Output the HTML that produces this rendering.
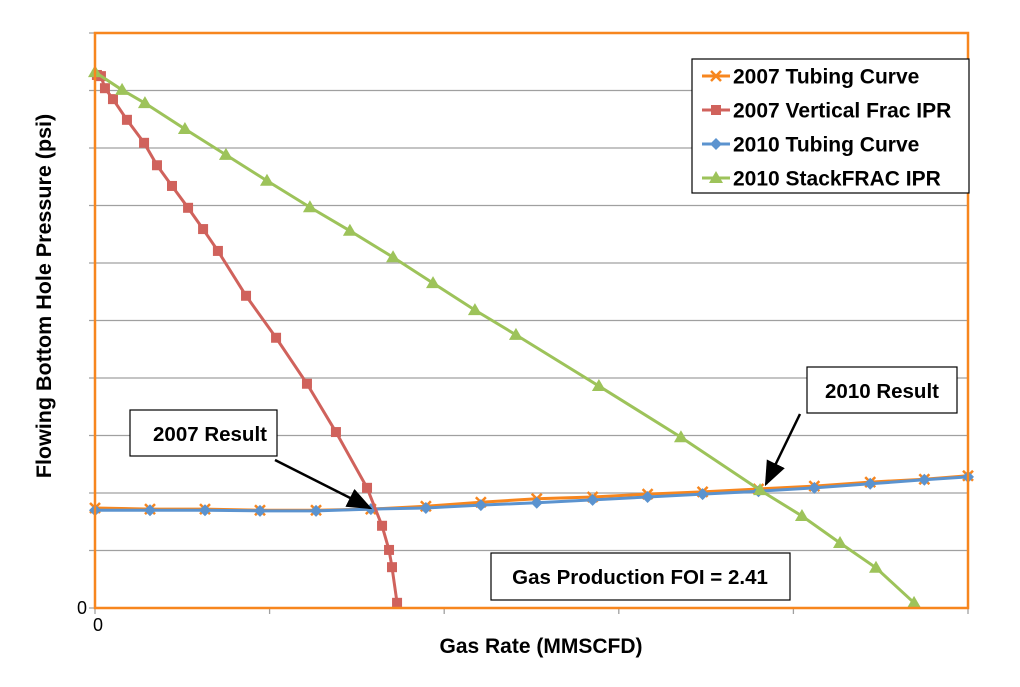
<!DOCTYPE html><html><head><meta charset="utf-8"><style>body{margin:0;background:#fff}svg{font-family:"Liberation Sans",Arial,sans-serif}</style></head><body>
<svg width="1020" height="682" xmlns="http://www.w3.org/2000/svg">
<defs><marker id="ah" markerWidth="10" markerHeight="8" refX="9" refY="4" orient="auto"><path d="M0,0L10,4L0,8z" fill="#000"/></marker></defs>
<g id="grid"></g>
<g id="series"></g>
<rect x="95" y="33" width="873" height="575" fill="none" stroke="#f7861e" stroke-width="2.5"/>
<text x="82" y="614" font-size="18" text-anchor="middle">0</text>
<text x="98" y="631" font-size="18" text-anchor="middle">0</text>
<text x="541" y="653" font-size="21" font-weight="bold" text-anchor="middle">Gas Rate (MMSCFD)</text>
<text transform="translate(51,296) rotate(-90)" font-size="21.5" font-weight="bold" text-anchor="middle">Flowing Bottom Hole Pressure (psi)</text>
<g>
<rect x="692" y="59" width="277" height="134" fill="#fff" stroke="#000" stroke-width="1.2"/>
<g id="legend"></g></g>
<g><rect x="130" y="410" width="147" height="46" fill="#fff" stroke="#000" stroke-width="1.2"/><text x="210" y="441" font-size="20.5" font-weight="bold" text-anchor="middle">2007 Result</text>
<line x1="275" y1="460" x2="370" y2="508" stroke="#000" stroke-width="2.5" marker-end="url(#ah)"/></g>
<g><rect x="807" y="367" width="150" height="46" fill="#fff" stroke="#000" stroke-width="1.2"/><text x="882" y="398" font-size="20.5" font-weight="bold" text-anchor="middle">2010 Result</text>
<line x1="800" y1="414" x2="766" y2="484" stroke="#000" stroke-width="2.5" marker-end="url(#ah)"/></g>
<g><rect x="491" y="553" width="299" height="47" fill="#fff" stroke="#000" stroke-width="1.2"/><text x="640" y="584" font-size="20.5" font-weight="bold" text-anchor="middle">Gas Production FOI = 2.41</text></g>
</svg>
<script>
const redX=[0.011,0.034,0.057,0.103,0.183,0.281,0.355,0.441,0.533,0.619,0.704,0.865,1.037,1.214,1.380,1.558,1.644,1.684,1.701,1.730];
const redY=[9.27,9.25,9.04,8.85,8.49,8.09,7.70,7.34,6.96,6.59,6.21,5.43,4.70,3.90,3.06,2.09,1.43,1.01,0.71,0.09];
const greenX=[0,0.155,0.286,0.515,0.750,0.985,1.231,1.460,1.707,1.936,2.176,2.411,2.886,3.356,3.809,4.049,4.267,4.473,4.691];
const greenY=[9.32,9.01,8.78,8.33,7.88,7.43,6.97,6.56,6.10,5.65,5.18,4.75,3.86,2.97,2.05,1.60,1.13,0.70,0.09];
const tubeX=[0,0.315,0.63,0.945,1.266,1.58,1.895,2.21,2.53,2.85,3.165,3.48,3.80,4.12,4.44,4.75,5.0];
const blueY=[1.70,1.70,1.70,1.69,1.69,1.72,1.74,1.79,1.83,1.88,1.93,1.98,2.03,2.09,2.16,2.23,2.28];
const orangeY=[1.74,1.72,1.72,1.70,1.70,1.72,1.77,1.84,1.90,1.93,1.98,2.02,2.07,2.12,2.19,2.24,2.30];
const xTicks=[0,1,2,3,4,5];const yTicks=[0,1,2,3,4,5,6,7,8,9,10];
const X=v=>95+v/5*873, Y=v=>608-v/10*575;
const NS='http://www.w3.org/2000/svg';
function mk(t,a,p){const e=document.createElementNS(NS,t);for(const k in a)e.setAttribute(k,a[k]);p.appendChild(e);return e;}
const grid=document.getElementById('grid');
yTicks.forEach(t=>{const l=mk('line',{x1:89,x2:968,y1:Y(t),y2:Y(t),stroke:'#a0a0a0','stroke-width':1.3},grid);

});
xTicks.forEach(t=>{const l=mk('line',{x1:X(t),x2:X(t),y1:608,y2:614,stroke:'#a0a0a0','stroke-width':1.3},grid);

});
const S=document.getElementById('series');
function marker(type,cx,cy,col,g){
 if(type==='sq')return mk('rect',{x:cx-5,y:cy-5,width:10,height:10,fill:col},g);
 if(type==='tri')return mk('path',{d:`M${cx},${cy-7}L${cx+7},${cy+5}L${cx-7},${cy+5}Z`,fill:col},g);
 if(type==='dia')return mk('path',{d:`M${cx},${cy-6}L${cx+6},${cy}L${cx},${cy+6}L${cx-6},${cy}Z`,fill:col},g);
 if(type==='x')return mk('path',{d:`M${cx-5},${cy-5}L${cx+5},${cy+5}M${cx+5},${cy-5}L${cx-5},${cy+5}`,stroke:col,'stroke-width':2.5},g);
}
function series(name,xs,ys,col,type){
 const g=mk('g',{},S);
 
 
 mk('polyline',{points:xs.map((x,i)=>X(x)+','+Y(ys[i])).join(' '),fill:'none',stroke:col,'stroke-width':3},g);
 xs.forEach((x,i)=>marker(type,X(x),Y(ys[i]),col,g));
}
series('tubing-2007',tubeX,orangeY,'#f7861e','x');
series('tubing-2010',tubeX,blueY,'#5b93cf','dia');
series('vertical-frac-ipr-2007',redX,redY,'#d0625c','sq');
series('stackfrac-ipr-2010',greenX,greenY,'#9dc35a','tri');
const names=['2007 Tubing Curve','2007 Vertical Frac IPR','2010 Tubing Curve','2010 StackFRAC IPR'];
const cols=['#f7861e','#d0625c','#5b93cf','#9dc35a'],types=['x','sq','dia','tri'];
const L=document.getElementById('legend');
names.forEach((n,i)=>{const y=76+i*34;const g=mk('g',{},L);


mk('line',{x1:702,x2:730,y1:y,y2:y,stroke:cols[i],'stroke-width':3},g);marker(types[i],716,y,cols[i],g);
const t=mk('text',{x:733,y:y+7.5,'font-size':21,'font-weight':'bold'},g);t.textContent=n;});
</script></body></html>
